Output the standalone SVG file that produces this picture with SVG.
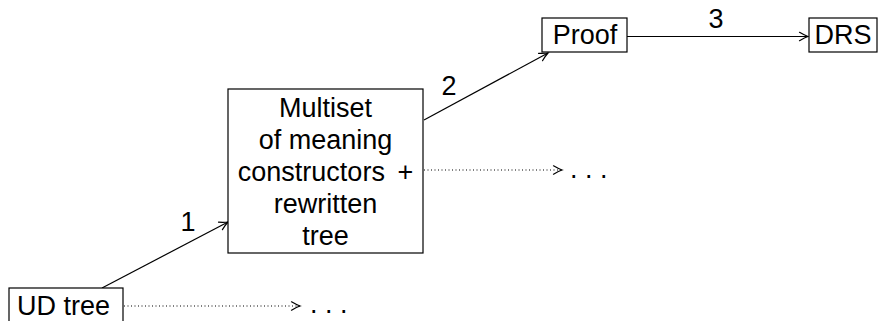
<svg xmlns="http://www.w3.org/2000/svg" width="880" height="321" viewBox="0 0 880 321">
  <style>
    .box { fill: #fff; stroke: #000; stroke-width: 1.2; }
    .lbl { font-family: "Liberation Sans", Arial, sans-serif; font-size: 27px; fill: #000; }
    .mid { text-anchor: middle; }
    .edge { fill: none; stroke: #000; stroke-width: 1.2; }
    .dot { stroke-dasharray: 1 2.5; }
  </style>
  <defs>
    <!-- open curved arrow tip -->
    <marker id="to" viewBox="-10 -6 12 12" refX="0" refY="0" markerWidth="12" markerHeight="12" markerUnits="userSpaceOnUse" orient="auto">
      <path d="M -8.5 -4.2 Q -3 -1 0 0 Q -3 1 -8.5 4.2" fill="none" stroke="#000" stroke-width="1.2" stroke-linecap="round"/>
    </marker>
  </defs>

  <g id="connectors">
    <line class="edge" x1="102" y1="288" x2="228" y2="222" marker-end="url(#to)"/>
    <text class="lbl mid" x="188" y="231">1</text>
    <line class="edge" x1="424" y1="120" x2="548" y2="53" marker-end="url(#to)"/>
    <text class="lbl mid" x="449" y="95">2</text>
    <line class="edge" x1="627" y1="36.5" x2="808" y2="36.5" marker-end="url(#to)"/>
    <text class="lbl mid" x="716" y="28">3</text>
    <line class="edge dot" x1="124" y1="306" x2="300" y2="306" marker-end="url(#to)"/>
    <text class="lbl" x="310" y="313">. . .</text>
    <line class="edge dot" x1="424" y1="170" x2="562" y2="170" marker-end="url(#to)"/>
    <text class="lbl" x="570" y="178">. . .</text>
  </g>

  <g id="ud-tree">
    <rect class="box" x="9" y="288" width="114" height="45"/>
    <text class="lbl" x="17" y="315">UD tree</text>
  </g>

  <g id="multiset">
    <rect class="box" x="228" y="89" width="195" height="164"/>
    <text class="lbl mid" x="325.5" y="117">Multiset</text>
    <text class="lbl mid" x="325.5" y="149">of meaning</text>
    <text class="lbl mid" x="325.5" y="181" word-spacing="5">constructors +</text>
    <text class="lbl mid" x="325.5" y="213">rewritten</text>
    <text class="lbl mid" x="325.5" y="245">tree</text>
  </g>

  <g id="proof">
    <rect class="box" x="542" y="18" width="85" height="34"/>
    <text class="lbl mid" x="585" y="44">Proof</text>
  </g>

  <g id="drs">
    <rect class="box" x="809" y="18" width="68" height="34"/>
    <text class="lbl mid" x="843" y="44">DRS</text>
  </g>
</svg>
